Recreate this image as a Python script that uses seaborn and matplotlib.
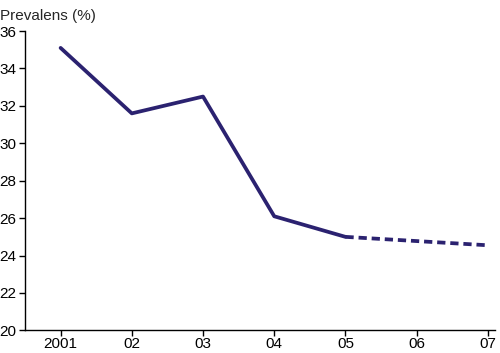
import matplotlib
matplotlib.use("Agg")
import matplotlib.pyplot as plt
import seaborn as sns
import pandas as pd

sns.set_style("ticks")
plt.rcParams['font.family'] = ['Liberation Sans', 'DejaVu Sans']

years_actual = [2001, 2002, 2003, 2004, 2005]
prev_actual = [35.1, 31.6, 32.5, 26.1, 25.0]
years_proj = [2005, 2007]
prev_proj = [25.0, 24.55]
tick_years = [2001, 2002, 2003, 2004, 2005, 2006, 2007]
tick_labels = ["2001", "02", "03", "04", "05", "06", "07"]
y_ticks = [20, 22, 24, 26, 28, 30, 32, 34, 36]

color = "#2b2270"

fig = plt.figure(figsize=(5.0, 3.53), dpi=100)
ax = fig.add_axes([0.05, 0.064, 0.94, 0.848])

df_a = pd.DataFrame({"year": years_actual, "prev": prev_actual})
df_p = pd.DataFrame({"year": years_proj, "prev": prev_proj})
sns.lineplot(data=df_a, x="year", y="prev", ax=ax, color=color, linewidth=2.7)
sns.lineplot(data=df_p, x="year", y="prev", ax=ax, color=color, linewidth=2.7,
             linestyle=(0, (2.2, 1.3)))

ax.set_xlim(2000.5, 2007.1)
ax.set_ylim(20, 36)
ax.set_xticks(tick_years)
ax.set_xticklabels(tick_labels)
ax.set_yticks(y_ticks)
ax.set_xlabel("")
ax.set_ylabel("")
for s in ["top", "right"]:
    ax.spines[s].set_visible(False)
for s in ["left", "bottom"]:
    ax.spines[s].set_linewidth(1.0)
    ax.spines[s].set_color("black")
ax.tick_params(axis="both", direction="out", length=4, width=1.0,
               labelsize=11, colors="black", pad=2)
ax.tick_params(axis="x", pad=1)
fig.text(0.0, 0.975, "Prevalens (%)", fontsize=11, ha="left", va="top")

fig.savefig("out.png", dpi=100)
